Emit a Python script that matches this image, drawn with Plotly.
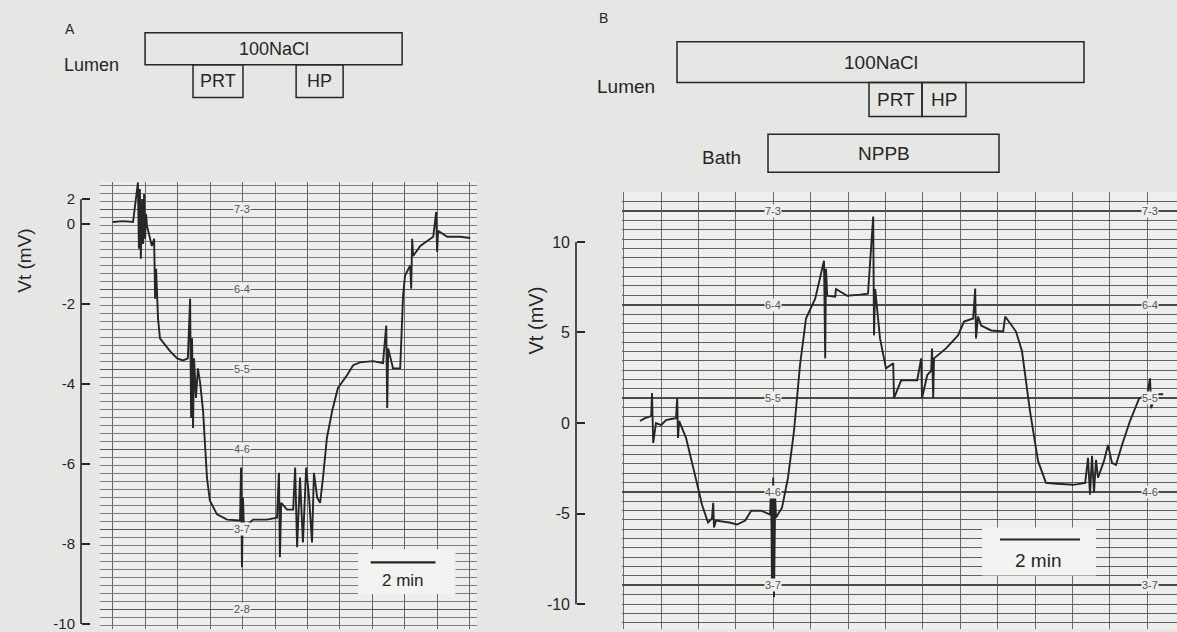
import plotly.graph_objects as go

# ---------------- data ----------------
# Panel A : time (min) and transepithelial voltage Vt (mV)
A_t = [0, 0.31, 0.62, 0.77, 0.80, 0.83, 0.86, 0.90, 0.93, 0.96, 0.99, 1.02, 1.05, 1.20, 1.27, 1.30, 1.33,
       1.39, 1.45, 1.60, 1.76, 1.98, 2.16, 2.31, 2.38, 2.41, 2.44, 2.47, 2.50, 2.56, 2.62, 2.69,
       2.78, 2.84, 2.90, 2.99, 3.21, 3.52, 3.92, 3.95, 3.98, 4.01, 4.04, 4.32, 4.75, 5.06, 5.12, 5.15, 5.19,
       5.37, 5.56, 5.62, 5.68, 5.77, 5.86, 5.96, 6.05, 6.14, 6.20, 6.30, 6.39, 6.48,
       6.60, 6.76, 6.94, 7.22, 7.41, 7.62, 8.02, 8.33, 8.43, 8.46, 8.49, 8.64, 8.86,
       8.95, 9.01, 9.17, 9.20, 9.23, 9.26, 9.48, 9.69, 9.88, 9.97, 10.00, 10.03, 10.31, 10.71, 11.02]
A_v = [0.05, 0.07, 0.05, 1.04, -0.62, 0.87, -0.87, 0.62, -0.50, 0.75, -0.37, 0.25, -0.05, -0.55, -0.37, -1.87, -1.12,
       -2.36, -2.86, -3.03, -3.18, -3.36, -3.41, -3.36, -1.87, -4.85, -2.86, -5.10, -3.36, -4.35, -3.61, -3.98,
       -4.68, -5.52, -6.34, -6.92, -7.26, -7.39, -7.41, -6.09, -8.58, -6.84, -7.59, -7.39, -7.39, -7.34, -6.22, -8.33, -6.97,
       -7.14, -7.14, -6.09, -8.08, -6.34, -7.96, -6.09, -6.84, -7.96, -6.22, -6.84, -6.97, -6.34,
       -5.35, -4.68, -4.10, -3.78, -3.53, -3.46, -3.43, -3.48, -2.54, -4.60, -3.11, -3.61, -3.61,
       -1.79, -1.29, -1.04, -1.62, -0.37, -0.80, -0.55, -0.42, -0.32, 0.30, -0.70, -0.17, -0.32, -0.32, -0.35]

# Panel B
B_t = [0, 0.125, 0.28, 0.30, 0.33, 0.40, 0.53, 0.65, 0.78, 0.90, 0.93, 0.95, 0.98, 1.15, 1.35, 1.55, 1.70,
       1.80, 1.83, 1.85, 1.90, 2.23, 2.43, 2.63, 2.78, 3.03, 3.25, 3.28, 3.30, 3.33, 3.35, 3.38, 3.40, 3.55,
       3.70, 3.85, 4.00, 4.15, 4.38, 4.60, 4.63, 4.65, 4.68, 4.88, 4.90, 5.18, 5.50, 5.70, 5.83, 5.85, 5.88,
       5.90, 6.00, 6.15, 6.33, 6.35, 6.53, 6.93, 7.03, 7.05, 7.18, 7.28, 7.30, 7.33, 7.35, 7.65, 7.95, 8.10, 8.33,
       8.38, 8.40, 8.45, 8.53, 8.78, 9.08, 9.13, 9.40, 9.55, 9.75, 9.95, 10.15, 10.43, 10.83, 11.13,
       11.20, 11.25, 11.30, 11.35, 11.40, 11.45, 11.60, 11.70, 11.80, 11.90, 12.05, 12.25, 12.48, 12.68,
       12.75, 12.78, 12.88, 13.08]
B_v = [0.11, 0.27, 0.38, 1.65, -1.10, 0.00, -0.11, 0.16, 0.22, 0.27, 1.37, -0.82, 0.11, -0.82, -2.64, -4.51, -5.49,
       -5.27, -4.40, -5.77, -5.38, -5.49, -5.60, -5.38, -4.84, -4.84, -5.05, -3.57, -9.07, -3.02, -9.62, -4.12, -5.22, -4.67,
       -3.02, -0.44, 3.19, 5.77, 6.87, 8.96, 3.57, 8.52, 7.03, 6.98, 7.40, 7.03, 7.09, 7.14, 11.40, 4.84, 7.40,
       6.87, 4.67, 3.02, 3.30, 1.37, 2.36, 2.36, 3.57, 1.37, 2.64, 2.90, 4.12, 1.37, 3.57, 4.12, 4.84, 5.60, 5.77,
       7.42, 4.67, 5.88, 5.38, 5.11, 5.05, 5.88, 5.05, 3.96, 0.66, -2.09, -3.30, -3.35, -3.41, -3.30,
       -1.92, -3.96, -1.81, -3.85, -2.03, -3.02, -2.09, -1.21, -2.20, -2.31, -1.21, 0.11, 1.37, 1.54,
       2.47, 0.82, 1.59, 1.59]

# Solution-change protocol bars (min)
A_bar_names = ["100NaCl", "PRT", "HP"]
A_bar_start = [0.99, 2.47, 5.65]
A_bar_end = [8.92, 4.01, 7.10]
A_bar_row = [0, 1, 1]

B_bar_names = ["100NaCl", "PRT", "HP", "NPPB"]
B_bar_start = [0.925, 5.725, 7.05, 3.2]
B_bar_end = [11.1, 7.05, 8.15, 8.975]
B_bar_row = [0, 1, 1, 2]

A_yticks = [0.62, 0, -2, -4, -6, -8, -10]
A_yticktext = ["2", "0", "-2", "-4", "-6", "-8", "-10"]
B_yticks = [10, 5, 0, -5, -10]
B_yticktext = ["10", "5", "0", "-5", "-10"]

# chart-paper printed marks
A_marks = ["7-3", "6-4", "5-5", "4-6", "3-7", "2-8"]
B_marks = ["7-3", "6-4", "5-5", "4-6", "3-7"]

# ---------------- layout helpers ----------------
W, H = 1177, 632
def fx(p): return p / W
def fy(p): return 1 - p / H

FONT = "Liberation Sans, Arial, Helvetica, sans-serif"
INK = "#262626"
PAPER = "#eeeeec"
BG = "#e6e6e4"
A_GRID, A_GRIDMAJ, A_VGRID = "#7c7c7c", "#5a5a5a", "#666666"
B_GRID, B_GRIDMAJ, B_VGRID = "#606060", "#4a4a4a", "#6a6a6a"

fig = go.Figure()

# dummy traces for grid overlay axes
for xa, ya in [("x", "y3"), ("x", "y4"), ("x2", "y5"), ("x2", "y6")]:
    fig.add_trace(go.Scatter(x=[None], y=[None], xaxis=xa, yaxis=ya, showlegend=False, hoverinfo="skip"))

fig.add_trace(go.Scatter(x=A_t, y=A_v, xaxis="x", yaxis="y", mode="lines",
                         line=dict(color=INK, width=1.9), showlegend=False, hoverinfo="skip"))
fig.add_trace(go.Scatter(x=B_t, y=B_v, xaxis="x2", yaxis="y2", mode="lines",
                         line=dict(color=INK, width=1.9), showlegend=False, hoverinfo="skip"))

# --- panel A scales ---
A_xr = [-0.40, 11.23]
A_yr = [-10.124, 1.045]
A_grid0 = 0.373
# --- panel B scales ---
B_xr = [-0.45, 13.425]
B_yr = [-11.37, 12.75]
B_grid0 = 11.70
B_minor = 0.5165

common_hidden = dict(showticklabels=False, ticks="", zeroline=False, showline=False)

layout = dict(
    width=W, height=H, margin=dict(l=0, r=0, t=0, b=0), autosize=False,
    paper_bgcolor=BG, plot_bgcolor=PAPER, showlegend=False,
    font=dict(family=FONT, color=INK, size=15),
    xaxis=dict(domain=[fx(100), fx(477)], range=A_xr, anchor="y", showgrid=True, tick0=0, dtick=1,
               gridcolor=A_VGRID, gridwidth=1.4, **common_hidden),
    yaxis=dict(domain=[0, fy(183)], range=A_yr, anchor="free", position=fx(81), showgrid=False,
               zeroline=False, showline=False, tickmode="array", tickvals=A_yticks, ticktext=A_yticktext,
               ticks="inside", ticklen=8, tickwidth=1.5, tickcolor=INK, ticklabelstandoff=6,
               ticklabeloverflow="allow", tickfont=dict(size=15, color=INK)),
    yaxis3=dict(overlaying="y", range=A_yr, anchor="x", showgrid=True, tick0=A_grid0, dtick=0.2,
                gridcolor=A_GRID, gridwidth=1.1, **common_hidden),
    yaxis4=dict(overlaying="y", range=A_yr, anchor="x", showgrid=True, tick0=A_grid0, dtick=2,
                gridcolor=A_GRIDMAJ, gridwidth=1.4, **common_hidden),
    xaxis2=dict(domain=[fx(622), 1.0], range=B_xr, anchor="y2", showgrid=True, tick0=0.525, dtick=0.935,
                gridcolor=B_VGRID, gridwidth=1.4, **common_hidden),
    yaxis2=dict(domain=[0, fy(193)], range=B_yr, anchor="free", position=fx(576), showgrid=False,
                zeroline=False, showline=False, tickmode="array", tickvals=B_yticks, ticktext=B_yticktext,
                ticks="inside", ticklen=8, tickwidth=1.5, tickcolor=INK, ticklabelstandoff=6,
                ticklabeloverflow="allow", tickfont=dict(size=16, color=INK)),
    yaxis5=dict(overlaying="y2", range=B_yr, anchor="x2", showgrid=True, tick0=B_grid0, dtick=B_minor,
                gridcolor=B_GRID, gridwidth=1.3, **common_hidden),
    yaxis6=dict(overlaying="y2", range=B_yr, anchor="x2", showgrid=True, tick0=B_grid0, dtick=B_minor * 10,
                gridcolor=B_GRIDMAJ, gridwidth=1.6, **common_hidden),
)
fig.update_layout(**layout)

shapes = []
ann = []

# y-axis spines
shapes.append(dict(type="line", xref="paper", yref="y", x0=fx(81), x1=fx(81), y0=A_yticks[-1], y1=A_yticks[0],
                   line=dict(color=INK, width=1.6)))
shapes.append(dict(type="line", xref="paper", yref="y2", x0=fx(576), x1=fx(576), y0=B_yticks[-1], y1=B_yticks[0],
                   line=dict(color=INK, width=1.6)))

# protocol bars
A_rows = [(33, 65), (65, 98)]
for n, s, e, r in zip(A_bar_names, A_bar_start, A_bar_end, A_bar_row):
    y0, y1 = A_rows[r]
    shapes.append(dict(type="rect", xref="x", yref="paper", x0=s, x1=e, y0=fy(y1), y1=fy(y0),
                       line=dict(color=INK, width=1.5), fillcolor="rgba(0,0,0,0)"))
    ann.append(dict(x=(s + e) / 2, y=fy((y0 + y1) / 2), xref="x", yref="paper", text=n, showarrow=False,
                    font=dict(size=18, color=INK), xanchor="center", yanchor="middle"))
B_rows = [(42, 83), (83, 117), (135, 173)]
for n, s, e, r in zip(B_bar_names, B_bar_start, B_bar_end, B_bar_row):
    y0, y1 = B_rows[r]
    shapes.append(dict(type="rect", xref="x2", yref="paper", x0=s, x1=e, y0=fy(y1), y1=fy(y0),
                       line=dict(color=INK, width=1.5), fillcolor="rgba(0,0,0,0)"))
    ann.append(dict(x=(s + e) / 2, y=fy((y0 + y1) / 2), xref="x2", yref="paper", text=n, showarrow=False,
                    font=dict(size=19, color=INK), xanchor="center", yanchor="middle"))

# panel labels & side labels
def lab(x, y, text, size, angle=0):
    return dict(x=fx(x), y=fy(y), xref="paper", yref="paper", text=text, showarrow=False,
                xanchor="center", yanchor="middle", textangle=angle, font=dict(size=size, color=INK))

ann += [
    lab(70, 29, "A", 14),
    lab(91, 65, "Lumen", 18),
    lab(603, 18, "B", 14),
    lab(626, 87, "Lumen", 19),
    lab(722, 158, "Bath", 19),
    lab(25, 262, "Vt (mV)", 19, -90),
    lab(536, 322, "Vt (mV)", 20, -90),
]

# scale-bar boxes (2 min)
shapes.append(dict(type="rect", xref="x", yref="y", x0=7.56, x1=10.56, y0=-9.25, y1=-8.13,
                   line=dict(width=0), fillcolor="#f3f3f1", layer="above"))
shapes.append(dict(type="line", xref="x", yref="y", x0=7.95, x1=9.95, y0=-8.46, y1=-8.46,
                   line=dict(color=INK, width=2.2), layer="above"))
ann.append(dict(x=8.95, y=-8.92, xref="x", yref="y", text="2 min", showarrow=False, font=dict(size=17, color=INK)))

shapes.append(dict(type="rect", xref="x2", yref="y2", x0=8.55, x1=11.4, y0=-8.41, y1=-5.77,
                   line=dict(width=0), fillcolor="#f3f3f1", layer="above"))
shapes.append(dict(type="line", xref="x2", yref="y2", x0=9.0, x1=11.0, y0=-6.43, y1=-6.43,
                   line=dict(color=INK, width=2.2), layer="above"))
ann.append(dict(x=9.95, y=-7.6, xref="x2", yref="y2", text="2 min", showarrow=False, font=dict(size=19, color=INK)))

# chart paper printed marks
for i, m in enumerate(A_marks):
    ann.append(dict(x=3.98, y=A_grid0 - 2 * i, xref="x", yref="y3", text=m, showarrow=False,
                    font=dict(size=11, color="#555"), bgcolor=PAPER, borderpad=0))
for col in [3.32, 12.75]:
    for i, m in enumerate(B_marks):
        ann.append(dict(x=col, y=B_grid0 - 10 * B_minor * i, xref="x2", yref="y5", text=m, showarrow=False,
                        font=dict(size=11, color="#555"), bgcolor=PAPER, borderpad=0))

fig.update_layout(shapes=shapes, annotations=ann)
fig.write_html("out.html")
